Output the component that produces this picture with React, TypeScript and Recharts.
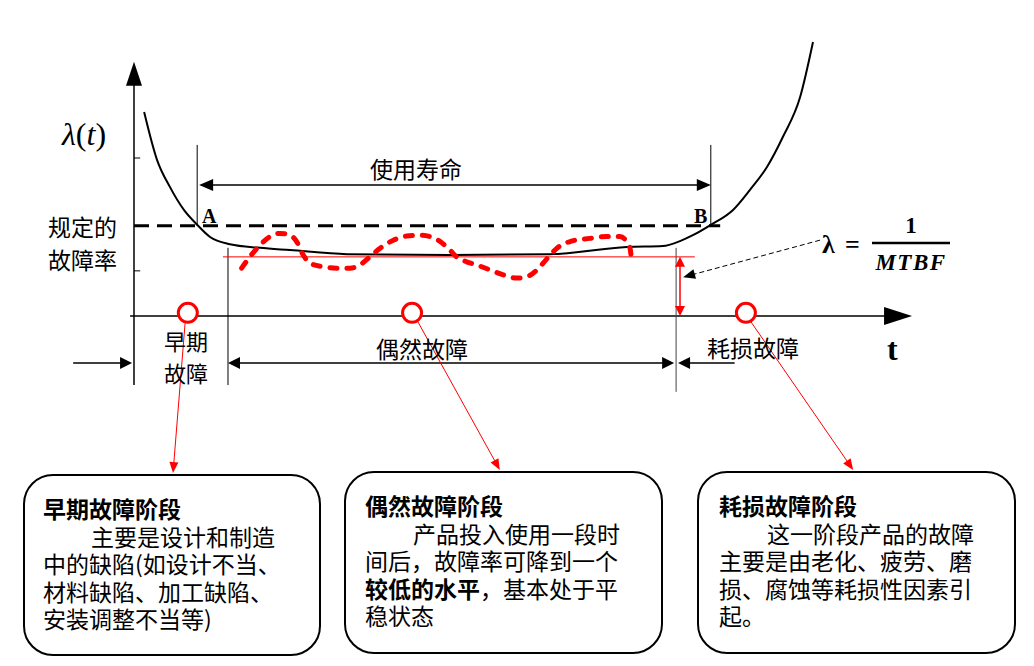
import React from 'react';
import { ComposedChart, Line, XAxis, YAxis, ReferenceLine, ReferenceDot } from 'recharts';

// ---------- data (t in time units, λ in rate units) ----------
const bathtubT = [0.26, 0.59, 0.92, 1.28, 1.62, 1.95, 2.46, 3.23, 4.0, 5.46, 8.1, 10.67, 12.64, 13.56, 14.0, 14.33, 14.79, 15.36, 15.79, 16.23, 16.64, 17.08, 17.41];
const bathtubL = [4.52, 3.46, 2.86, 2.35, 2.02, 1.75, 1.59, 1.51, 1.46, 1.37, 1.35, 1.37, 1.53, 1.55, 1.66, 1.79, 2.02, 2.35, 2.79, 3.30, 3.97, 4.85, 6.07];

const randomT = [2.76, 2.97, 3.23, 3.49, 3.74, 4.0, 4.17, 4.34, 4.51, 4.85, 5.2, 5.54, 5.79, 6.05, 6.31, 6.65, 6.99, 7.33, 7.59, 7.85, 8.1, 8.27, 8.53, 8.79, 9.13, 9.47, 9.81, 10.07, 10.33, 10.49, 10.67, 10.84, 11.18, 11.69, 12.12, 12.46, 12.63, 12.72, 12.76];
const randomL = [1.06, 1.31, 1.57, 1.76, 1.83, 1.79, 1.65, 1.35, 1.17, 1.09, 1.06, 1.06, 1.13, 1.31, 1.5, 1.68, 1.77, 1.79, 1.76, 1.65, 1.46, 1.31, 1.2, 1.13, 1.02, 0.91, 0.84, 0.87, 1.02, 1.17, 1.35, 1.5, 1.65, 1.72, 1.76, 1.76, 1.65, 1.5, 1.17];

const yTicks = [1.0, 3.5];
const specifiedRate = 2.0;          // 规定的故障率
const constantRate = 1.31;          // λ = 1/MTBF level
const tA = 1.62;                    // point A
const tB = 14.79;                   // point B
const tEarlyEnd = 2.41;             // end of early failure
const tWearStart = 13.9;            // start of wear-out
const lifeArrowL = 2.9;             // 使用寿命 arrow level
const topGuideL = 3.79;             // top of A / B guide lines
const phaseArrowL = -1.04;          // phase arrows below axis
const circleT = [1.38, 7.13, 15.69];
const circleL = 0.07;
const leaderFrom = [[1.31, -0.16], [7.28, -0.13], [15.82, -0.13]];
const leaderTo = [[1.0, -3.48], [9.38, -3.41], [18.44, -3.41]];

const titles = ['早期故障阶段', '偶然故障阶段', '耗损故障阶段'];

const bathtubData = bathtubT.map((t, i) => ({ t, v: bathtubL[i] }));
const randomData = randomT.map((t, i) => ({ t, v: randomL[i] }));

const RED = '#ff0000';

function arrowShape(o: { start?: boolean; end?: boolean; len?: number; half?: number; color?: string; width?: number; dash?: string }) {
  const color = o.color ?? '#000';
  const L = o.len ?? 12;
  const Hh = o.half ?? 5;
  return (p: any) => {
    const { x1, y1, x2, y2 } = p;
    const dx = x2 - x1, dy = y2 - y1;
    const d = Math.hypot(dx, dy) || 1;
    const ux = dx / d, uy = dy / d;
    const head = (tx: number, ty: number, ax: number, ay: number) => {
      const bx = tx - ax * L, by = ty - ay * L;
      return `${tx},${ty} ${bx - ay * Hh},${by + ax * Hh} ${bx + ay * Hh},${by - ax * Hh}`;
    };
    let sx = x1, sy = y1, ex = x2, ey = y2;
    if (o.start) { sx += ux * L * 0.8; sy += uy * L * 0.8; }
    if (o.end) { ex -= ux * L * 0.8; ey -= uy * L * 0.8; }
    return (
      <g>
        <line x1={sx} y1={sy} x2={ex} y2={ey} stroke={color} strokeWidth={o.width ?? 1.5} strokeDasharray={o.dash} />
        {o.start && <polygon points={head(x1, y1, -ux, -uy)} fill={color} />}
        {o.end && <polygon points={head(x2, y2, ux, uy)} fill={color} />}
      </g>
    );
  };
}

const cjk = '"Noto Sans CJK SC", "Noto Sans", sans-serif';
const serif = '"Liberation Serif", "DejaVu Serif", serif';

const boxBase: React.CSSProperties = {
  position: 'absolute',
  border: '2px solid #000',
  borderRadius: 30,
  background: '#fff',
  boxSizing: 'border-box',
  fontFamily: cjk,
  fontSize: 23,
  lineHeight: '27.6px',
  color: '#000',
  whiteSpace: 'nowrap',
};

export default function App() {
  return (
    <div style={{ position: 'absolute', left: 0, top: 0, width: 1034, height: 666, background: '#fff', overflow: 'hidden' }}>
      <ComposedChart width={1034} height={666} data={bathtubData} margin={{ top: 0, right: 120, bottom: 350, left: 134 }}>
        <XAxis dataKey="t" type="number" domain={[0, 20]} hide />
        <YAxis type="number" domain={[0, 7]} hide />

        {/* axes */}
        <ReferenceLine ifOverflow="visible" segment={[{ x: 0, y: -1.53 }, { x: 0, y: 5.63 }]} shape={arrowShape({ end: true, len: 24, half: 8, width: 1.5 })} />
        <ReferenceLine ifOverflow="visible" segment={[{ x: -0.1, y: 0 }, { x: 19.95, y: 0 }]} shape={arrowShape({ end: true, len: 28, half: 9, width: 1.5 })} />
        {yTicks.map((v) => (
          <ReferenceLine key={v} ifOverflow="visible" segment={[{ x: 0, y: v }, { x: 0.16, y: v }]} stroke="#000" strokeWidth={1} />
        ))}

        {/* specified rate dashed */}
        <ReferenceLine ifOverflow="visible" segment={[{ x: 0, y: specifiedRate }, { x: 15.03, y: specifiedRate }]} stroke="#000" strokeWidth={3} strokeDasharray="15 8" />

        {/* A/B guides and life arrow */}
        <ReferenceLine ifOverflow="visible" segment={[{ x: tA, y: specifiedRate }, { x: tA, y: topGuideL }]} stroke="#000" strokeWidth={1} />
        <ReferenceLine ifOverflow="visible" segment={[{ x: tB, y: specifiedRate }, { x: tB, y: topGuideL }]} stroke="#000" strokeWidth={1} />
        <ReferenceLine ifOverflow="visible" segment={[{ x: tA + 0.05, y: lifeArrowL }, { x: tB, y: lifeArrowL }]} shape={arrowShape({ start: true, end: true, len: 14, half: 6, width: 1.5 })} />

        {/* phase boundaries */}
        <ReferenceLine ifOverflow="visible" segment={[{ x: tEarlyEnd, y: 1.51 }, { x: tEarlyEnd, y: -1.53 }]} stroke="#000" strokeWidth={1} />
        <ReferenceLine ifOverflow="visible" segment={[{ x: tWearStart, y: 1.51 }, { x: tWearStart, y: -1.68 }]} stroke="#444" strokeWidth={1} />

        {/* phase arrows below axis */}
        <ReferenceLine ifOverflow="visible" segment={[{ x: -1.56, y: phaseArrowL }, { x: -0.05, y: phaseArrowL }]} shape={arrowShape({ end: true, len: 12, half: 6, width: 1.5 })} />
        <ReferenceLine ifOverflow="visible" segment={[{ x: tEarlyEnd, y: phaseArrowL }, { x: tWearStart - 0.05, y: phaseArrowL }]} shape={arrowShape({ start: true, end: true, len: 12, half: 6, width: 1.5 })} />
        <ReferenceLine ifOverflow="visible" segment={[{ x: tWearStart + 0.05, y: phaseArrowL }, { x: 15.4, y: phaseArrowL }]} shape={arrowShape({ start: true, len: 12, half: 6, width: 1.5 })} />

        {/* constant rate level */}
        <ReferenceLine ifOverflow="visible" segment={[{ x: 2.28, y: constantRate }, { x: 14.38, y: constantRate }]} stroke={RED} strokeWidth={1} />
        <ReferenceLine ifOverflow="visible" segment={[{ x: 14.0, y: constantRate }, { x: 14.0, y: 0 }]} shape={arrowShape({ start: true, end: true, len: 10, half: 5, width: 1.5, color: RED })} />
        <ReferenceLine ifOverflow="visible" segment={[{ x: 17.59, y: 1.68 }, { x: 14.08, y: 0.86 }]} shape={arrowShape({ end: true, len: 12, half: 5, width: 1, dash: '5 3' })} />

        {/* curves */}
        <Line data={bathtubData} dataKey="v" type="monotone" stroke="#000" strokeWidth={2} dot={false} isAnimationActive={false} />
        <Line data={randomData} dataKey="v" type="monotone" stroke={RED} strokeWidth={5} strokeDasharray="7 10" strokeLinecap="round" dot={false} isAnimationActive={false} />

        {/* leaders to boxes */}
        {leaderFrom.map((f, i) => (
          <ReferenceLine key={'ld' + i} ifOverflow="visible" segment={[{ x: f[0], y: f[1] }, { x: leaderTo[i][0], y: leaderTo[i][1] }]} shape={arrowShape({ end: true, len: 11, half: 4.5, width: 1, color: RED })} />
        ))}
        {circleT.map((t, i) => (
          <ReferenceDot key={'c' + i} ifOverflow="visible" x={t} y={circleL} r={9.5} fill="#fff" stroke={RED} strokeWidth={3} />
        ))}
      </ComposedChart>

      <svg width={1034} height={666} style={{ position: 'absolute', left: 0, top: 0, pointerEvents: 'none' }}>
        <text x={62} y={145} fontFamily={serif} fontSize={32}>
          <tspan fontStyle="italic">λ</tspan>
          <tspan>(</tspan>
          <tspan fontStyle="italic">t</tspan>
          <tspan>)</tspan>
        </text>
        <text x={48} y={226} fontFamily={cjk} fontSize={23} dominantBaseline="central">规定的</text>
        <text x={48} y={259} fontFamily={cjk} fontSize={23} dominantBaseline="central">故障率</text>
        <text x={202} y={223} fontFamily={serif} fontSize={20} fontWeight="bold">A</text>
        <text x={694} y={223} fontFamily={serif} fontSize={20} fontWeight="bold">B</text>
        <text x={416} y={168} fontFamily={cjk} fontSize={23} textAnchor="middle" dominantBaseline="central">使用寿命</text>
        <text x={186} y={340} fontFamily={cjk} fontSize={22} textAnchor="middle" dominantBaseline="central">早期</text>
        <text x={186} y={372} fontFamily={cjk} fontSize={22} textAnchor="middle" dominantBaseline="central">故障</text>
        <text x={422} y={348} fontFamily={cjk} fontSize={23} textAnchor="middle" dominantBaseline="central">偶然故障</text>
        <text x={753} y={347} fontFamily={cjk} fontSize={23} textAnchor="middle" dominantBaseline="central">耗损故障</text>
        <text x={887} y={360} fontFamily={serif} fontSize={32} fontWeight="bold">t</text>
        {/* formula λ = 1/MTBF */}
        <text x={822} y={253} fontFamily={serif} fontSize={26} fontWeight="bold">λ</text>
        <text x={845} y={253} fontFamily={serif} fontSize={26} fontWeight="bold">=</text>
        <line x1={872} y1={243} x2={950} y2={243} stroke="#000" strokeWidth={2.5} />
        <text x={911} y={233} fontFamily={serif} fontSize={23} fontWeight="bold" textAnchor="middle">1</text>
        <text x={911} y={270} fontFamily={serif} fontSize={23} fontWeight="bold" fontStyle="italic" textAnchor="middle" letterSpacing={1.5}>MTBF</text>
      </svg>

      <div style={{ ...boxBase, left: 23, top: 474, width: 298, height: 182, padding: '19px 0 0 18px' }}>
        <div style={{ fontWeight: 'bold' }}>{titles[0]}</div>
        <div style={{ marginLeft: 48 }}>主要是设计和制造</div>
        <div>中的缺陷(如设计不当、</div>
        <div>材料缺陷、加工缺陷、</div>
        <div>安装调整不当等)</div>
      </div>
      <div style={{ ...boxBase, left: 344, top: 471, width: 319, height: 183, padding: '19px 0 0 19px' }}>
        <div style={{ fontWeight: 'bold' }}>{titles[1]}</div>
        <div style={{ marginLeft: 48 }}>产品投入使用一段时</div>
        <div>间后，故障率可降到一个</div>
        <div><b>较低的水平</b>，基本处于平</div>
        <div>稳状态</div>
      </div>
      <div style={{ ...boxBase, left: 697, top: 471, width: 319, height: 183, padding: '19px 0 0 20px' }}>
        <div style={{ fontWeight: 'bold' }}>{titles[2]}</div>
        <div style={{ marginLeft: 48 }}>这一阶段产品的故障</div>
        <div>主要是由老化、疲劳、磨</div>
        <div>损、腐蚀等耗损性因素引</div>
        <div>起。</div>
      </div>
    </div>
  );
}
